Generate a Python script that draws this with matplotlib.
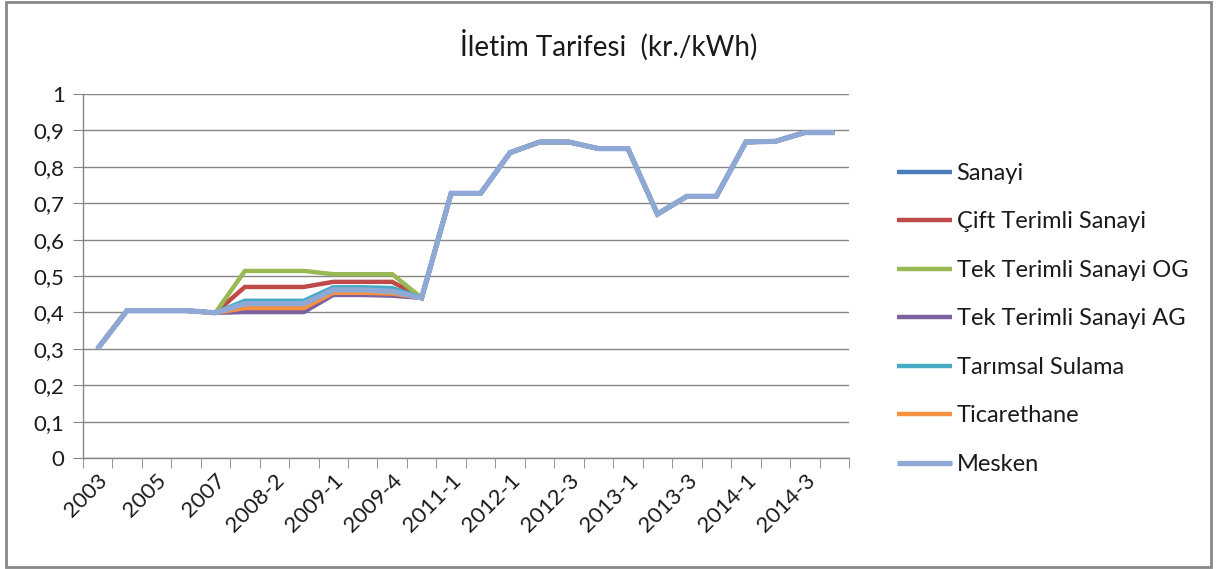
import numpy as np
import matplotlib
matplotlib.use('Agg')
import matplotlib.pyplot as plt

plt.rcParams['font.family'] = ['Lato', 'DejaVu Sans']

# dönemler (her ikinci etiket eksende gösteriliyor)
donemler = ['2003', '2004', '2005', '2006', '2007', '2008-1', '2008-2', '2008-3',
            '2009-1', '2009-2', '2009-4', '2010', '2011-1', '2011-2', '2012-1',
            '2012-2', '2012-3', '2012-4', '2013-1', '2013-2', '2013-3', '2013-4',
            '2014-1', '2014-2', '2014-3', '2014-4']

# ortak kısımlar
bas = [0.300, 0.405, 0.405, 0.405, 0.399]
son = [0.440, 0.727, 0.727, 0.839, 0.868, 0.868, 0.850, 0.850, 0.670, 0.719,
       0.719, 0.868, 0.870, 0.894, 0.894]

sanayi = bas + [0.424, 0.424, 0.424, 0.462, 0.462, 0.458] + son
cift_terimli = bas + [0.470, 0.470, 0.470, 0.484, 0.484, 0.484] + son
tek_og = bas + [0.514, 0.514, 0.514, 0.505, 0.505, 0.505] + son
tek_ag = bas + [0.401, 0.401, 0.401, 0.448, 0.448, 0.446] + son
tarimsal = bas + [0.432, 0.432, 0.432, 0.469, 0.469, 0.467] + son
ticarethane = bas + [0.412, 0.412, 0.412, 0.454, 0.454, 0.452] + son
mesken = bas + [0.424, 0.424, 0.424, 0.462, 0.462, 0.458] + son

seriler = [
    ('Sanayi', sanayi, '#4A7EBB'),
    ('Çift Terimli Sanayi', cift_terimli, '#BE4B48'),
    ('Tek Terimli Sanayi OG', tek_og, '#98B954'),
    ('Tek Terimli Sanayi AG', tek_ag, '#7D60A0'),
    ('Tarımsal Sulama', tarimsal, '#46AAC5'),
    ('Ticarethane', ticarethane, '#F69240'),
    ('Mesken', mesken, '#8EA9D5'),
]

fig = plt.figure(figsize=(12.17, 5.69), dpi=100)
ax = fig.add_axes([0.068, 0.195, 0.6296, 0.6398])

x = np.arange(len(donemler))
for ad, deger, renk in seriler:
    lw = 3.8 if ad == 'Mesken' else 3.2
    ax.plot(x, deger, color=renk, lw=lw, label=ad, solid_capstyle='butt',
            solid_joinstyle='miter')

ax.set_xlim(-0.5, len(donemler) - 0.5)
ax.set_ylim(0, 1)
ax.set_yticks(np.arange(0, 1.01, 0.1))
ax.set_yticklabels(['0', '0,1', '0,2', '0,3', '0,4', '0,5', '0,6', '0,7', '0,8', '0,9', '1'])
ax.yaxis.grid(True, color='#868686', lw=1)
ax.set_axisbelow(True)

ax.set_xticks(x[::2])
ax.set_xticklabels(donemler[::2], rotation=45, ha='right', rotation_mode='anchor')
ax.set_xticks(np.arange(-0.5, len(donemler)), minor=True)
ax.tick_params(axis='x', which='major', length=0, pad=9, labelsize=16, labelcolor='#1a1a1a')
ax.tick_params(axis='x', which='minor', length=7, color='#868686', direction='out')
ax.tick_params(axis='y', length=7, color='#868686', labelsize=16, labelcolor='#1a1a1a', pad=6)

for k in ['top', 'right']:
    ax.spines[k].set_visible(False)
for k in ['left', 'bottom']:
    ax.spines[k].set_color('#868686')
    ax.spines[k].set_linewidth(1)

fig.text(0.5, 0.92, 'İletim Tarifesi  (kr./kWh)', ha='center', va='center',
         fontsize=20, color='#1a1a1a')

ax.legend(loc='upper left', bbox_to_anchor=(0.720, 0.751), bbox_transform=fig.transFigure,
          frameon=False, fontsize=17, handlelength=2.3, handletextpad=0.2,
          labelspacing=1.165, labelcolor='#1a1a1a')

# dış çerçeve
fig.patches.append(plt.Rectangle((0.005, 0.004), 0.99, 0.992, transform=fig.transFigure,
                                 fill=False, edgecolor='#888888', lw=2))

fig.savefig('out.png', dpi=100)
